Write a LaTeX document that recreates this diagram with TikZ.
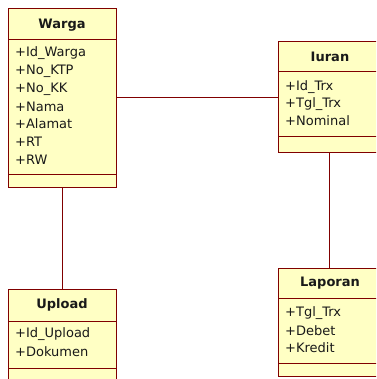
\documentclass[tikz,border=0pt]{standalone}
\usepackage{fontspec}
\setmainfont{DejaVu Sans}
\definecolor{umlfill}{HTML}{FFFFC4}
\definecolor{umlline}{HTML}{800000}
\begin{document}
\begin{tikzpicture}[x=1pt,y=-1pt,
  box/.style={draw=umlline,fill=umlfill,line width=1pt,inner sep=0pt},
  ttl/.style={font=\fontsize{13}{15}\selectfont\bfseries,text=black!90,inner sep=0pt},
  attr/.style={font=\fontsize{13}{15}\selectfont,anchor=west,text=black!90,inner sep=0pt},
  sep/.style={draw=umlline,line width=1pt},
  conn/.style={draw=umlline,line width=1pt}]
\useasboundingbox (0,0) rectangle (376,379);
\clip (0,0) rectangle (376,379);
% Warga
\node[box,minimum width=108pt,minimum height=178pt] (warga) at (62,98) {};
\node[ttl] (wt) at (62,25) {Warga};
\draw[sep] (8,40) -- (116,40);
\draw[sep] (8,174) -- (116,174);
\node[attr] (w1) at (15,53) {+Id\_Warga};
\node[attr] (w2) at (15,71) {+No\_KTP};
\node[attr] (w3) at (15,89) {+No\_KK};
\node[attr] (w4) at (15,107) {+Nama};
\node[attr] (w5) at (15,124) {+Alamat};
\node[attr] (w6) at (15,142) {+RT};
\node[attr] (w7) at (15,160) {+RW};
% Iuran
\node[box,minimum width=108pt,minimum height=111pt] (iuran) at (332,97.5) {};
\node[ttl] (it) at (330,57) {Iuran};
\draw[sep] (278,72) -- (386,72);
\draw[sep] (278,137) -- (386,137);
\node[attr] (i1) at (285,87) {+Id\_Trx};
\node[attr] (i2) at (285,104) {+Tgl\_Trx};
\node[attr] (i3) at (285,121) {+Nominal};
% Upload
\node[box,minimum width=108pt,minimum height=120pt] (upload) at (62,349) {};
\node[ttl] (ut) at (62,305) {Upload};
\draw[sep] (8,321) -- (116,321);
\draw[sep] (8,368) -- (116,368);
\node[attr] (u1) at (15,334) {+Id\_Upload};
\node[attr] (u2) at (15,352) {+Dokumen};
% Laporan
\node[box,minimum width=108pt,minimum height=108pt] (laporan) at (332,322) {};
\node[ttl] (lt) at (330,283) {Laporan};
\draw[sep] (278,298) -- (386,298);
\draw[sep] (278,363) -- (386,363);
\node[attr] (l1) at (285,313) {+Tgl\_Trx};
\node[attr] (l2) at (285,331) {+Debet};
\node[attr] (l3) at (285,348) {+Kredit};
% connectors
\draw[conn] (warga.east |- 0,98) -- (iuran.west |- 0,98);
\draw[conn] (warga.south) -- (upload.north);
\draw[conn] (iuran.south -| 329,0) -- (laporan.north -| 329,0);
\end{tikzpicture}
\end{document}
